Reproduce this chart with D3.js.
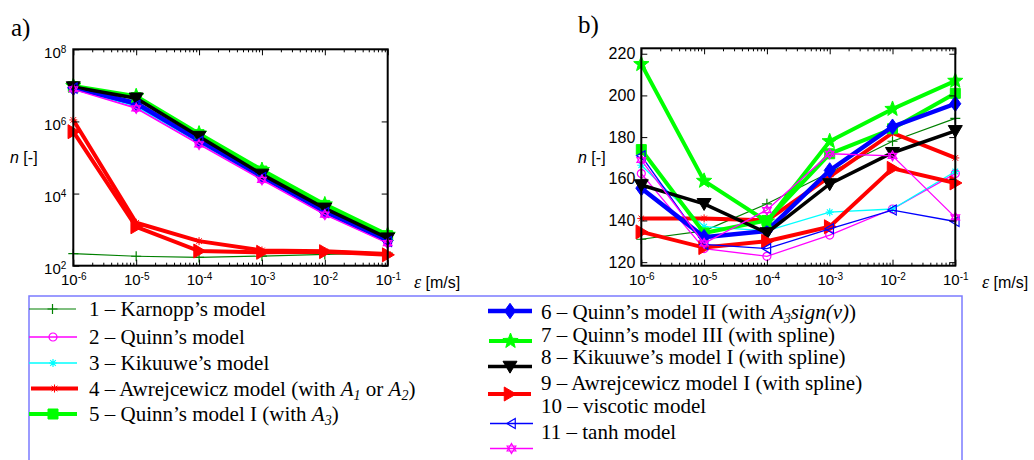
<!DOCTYPE html>
<html><head><meta charset="utf-8">
<script src="https://cdn.jsdelivr.net/npm/d3@7"></script>
<style>body{margin:0;background:#fff;overflow:hidden}</style>
</head><body>
<svg id="c" width="1034" height="460" xmlns="http://www.w3.org/2000/svg"></svg>
<script>
// ---------- data ----------
const eps = [1e-6, 1e-5, 1e-4, 1e-3, 1e-2, 1e-1];
const epsExp = ["-6", "-5", "-4", "-3", "-2", "-1"];
const leftYTicks = [1e2, 1e4, 1e6, 1e8];
const leftYExp = ["2", "4", "6", "8"];
const rightYTicks = [120, 140, 160, 180, 200, 220];

// panel a) : n [-] (log scale)
const a1  = [215, 183, 170, 185, 205, 225];
const a2  = [8.0e6, 2.4e6, 2.4e5, 2.5e4, 2.7e3, 430];
const a3  = [8.2e6, 2.6e6, 2.6e5, 2.7e4, 2.9e3, 450];
const a4  = [1.1e6, 1.55e3, 480, 265, 250, 210];
const a5  = [9.2e6, 4.6e6, 4.3e5, 4.2e4, 4.7e3, 680];
const a6  = [8.6e6, 3.2e6, 3.0e5, 3.0e4, 3.2e3, 500];
const a7  = [9.6e6, 5.0e6, 4.6e5, 4.5e4, 5.0e3, 720];
const a8  = [9.0e6, 4.4e6, 3.8e5, 3.4e4, 3.9e3, 580];
const a9  = [5.2e5, 1.2e3, 255, 235, 245, 200];
const a10 = [8.4e6, 2.8e6, 2.8e5, 2.8e4, 3.0e3, 470];
const a11 = [7.8e6, 2.3e6, 2.3e5, 2.4e4, 2.6e3, 420];

// panel b) : n [-] (linear scale)
const b1  = [131, 135, 148, 163, 178, 189];
const b2  = [162.5, 126.5, 122.8, 133, 145.5, 162.5];
const b3  = [166.5, 137, 135, 144, 145.5, 163.5];
const b4  = [141, 141, 140, 161, 182, 170];
const b5  = [174, 134, 140, 172, 184, 201];
const b6  = [155.5, 132, 135, 164, 185, 196];
const b7  = [215, 159, 139.5, 178, 193.5, 207];
const b8  = [157, 148, 134, 157.5, 172.5, 183];
const b9  = [134.5, 127, 130, 137, 165, 158];
const b10 = [171, 128.5, 126.5, 136, 145, 139.5];
const b11 = [169, 129, 145, 172, 171, 141.5];

const seriesA = [a1, a2, a3, a4, a5, a6, a7, a8, a9, a10, a11];
const seriesB = [b1, b2, b3, b4, b5, b6, b7, b8, b9, b10, b11];

// ---------- styles ----------
const colors  = ["#008000", "#ff00ff", "#00ffff", "#ff0000", "#00ff00", "#0000ff", "#00ff00", "#000000", "#ff0000", "#0000ff", "#ff00ff"];
const widths  = [1.2, 1.3, 1.3, 4, 4, 4.5, 4, 3.5, 4, 1.3, 1.3];
const markers = ["plus", "circle", "aster", "aster", "square", "diamond", "star", "triDown", "triRight", "triLeft", "hexa"];
const msize   = [5, 4, 4, 4, 5, 5.5, 8, 7, 7, 5, 5];
const mfill   = [false, false, false, true, true, true, true, true, true, false, false];

// ---------- helpers ----------
function markerPath(t, s) {
  switch (t) {
    case "plus": return `M${-s},0H${s}M0,${-s}V${s}`;
    case "circle": return `M${s},0A${s},${s} 0 1,1 ${-s},0A${s},${s} 0 1,1 ${s},0Z`;
    case "aster": { const k = s * 0.7; return `M${-s},0H${s}M0,${-s}V${s}M${-k},${-k}L${k},${k}M${-k},${k}L${k},${-k}`; }
    case "square": return `M${-s},${-s}H${s}V${s}H${-s}Z`;
    case "diamond": return `M0,${-s * 1.4}L${s},0L0,${s * 1.4}L${-s},0Z`;
    case "star": {
      let p = [];
      for (let i = 0; i < 10; i++) {
        const r = i % 2 === 0 ? s : s * 0.42;
        const a = -Math.PI / 2 + i * Math.PI / 5;
        p.push([r * Math.cos(a), r * Math.sin(a)]);
      }
      return "M" + p.map(q => q[0].toFixed(2) + "," + q[1].toFixed(2)).join("L") + "Z";
    }
    case "triDown": return `M${-s},${-s * 0.75}L${s},${-s * 0.75}L0,${s * 0.95}Z`;
    case "triRight": return `M${-s * 0.75},${-s}L${s * 0.95},0L${-s * 0.75},${s}Z`;
    case "triLeft": return `M${s * 0.75},${-s}L${-s * 0.95},0L${s * 0.75},${s}Z`;
    case "hexa": {
      const h = s, w = s * 0.87;
      return `M0,${-h}L${w},${h * 0.5}L${-w},${h * 0.5}ZM0,${h}L${w},${-h * 0.5}L${-w},${-h * 0.5}Z`;
    }
  }
}

const svg = d3.select("#c");
const SANS = "'Liberation Sans', Arial, sans-serif";
const SERIF = "'Liberation Serif', 'Times New Roman', serif";

function drawSeries(g, xs, ys, data, i) {
  const line = d3.line().x((d, j) => xs(eps[j])).y(d => ys(d));
  g.append("path").attr("d", line(data)).attr("fill", "none")
    .attr("stroke", colors[i]).attr("stroke-width", widths[i]).attr("stroke-linejoin", "miter");
  g.selectAll(null).data(data).enter().append("path")
    .attr("transform", (d, j) => `translate(${xs(eps[j])},${ys(d)})`)
    .attr("d", markerPath(markers[i], msize[i]))
    .attr("fill", mfill[i] ? colors[i] : "none")
    .attr("stroke", colors[i])
    .attr("stroke-width", mfill[i] ? 1 : 1.2);
}

function powLabel(sel, exps) {
  sel.each(function (d, i) {
    const t = d3.select(this);
    t.text(null);
    t.append("tspan").text("10");
    t.append("tspan").attr("dy", "-0.55em").attr("font-size", "10px").text(exps[i]);
  });
}

function minorTicks(g, xs, y0, y1) {
  const minors = [];
  for (let e = -6; e < -1; e++) for (let m = 2; m <= 9; m++) minors.push(m * Math.pow(10, e));
  g.append("g").call(d3.axisBottom(xs).tickValues(minors).tickSize(-3).tickFormat(""))
    .attr("transform", `translate(0,${y0})`).call(s => s.select(".domain").remove());
  g.append("g").call(d3.axisTop(xs).tickValues(minors).tickSize(-3).tickFormat(""))
    .attr("transform", `translate(0,${y1})`).call(s => s.select(".domain").remove());
}

function frame(g, x0, x1, y0, y1) {
  g.append("rect").attr("x", x0).attr("y", y1).attr("width", x1 - x0).attr("height", y0 - y1)
    .attr("fill", "none").attr("stroke", "#000").attr("stroke-width", 2);
}

// ---------- panel a ----------
{
  const L = 73.3, R = 387.7, T = 49.3, B = 265.7;
  const xs = d3.scaleLog().domain([1e-6, 1e-1]).range([L, R]);
  const ys = d3.scaleLog().domain([1e2, 1e8]).range([B, T]);
  const g = svg.append("g");

  for (let i = 0; i < seriesA.length; i++) drawSeries(g, xs, ys, seriesA[i], i);

  minorTicks(g, xs, B, T);
  const xa = g.append("g").attr("transform", `translate(0,${B})`)
    .call(d3.axisBottom(xs).tickValues(eps).tickSizeInner(-6).tickSizeOuter(0).tickPadding(9));
  const xa2 = g.append("g").attr("transform", `translate(0,${T})`)
    .call(d3.axisTop(xs).tickValues(eps).tickSizeInner(-6).tickSizeOuter(0).tickFormat(""));
  const ya = g.append("g").attr("transform", `translate(${L},0)`)
    .call(d3.axisLeft(ys).tickValues(leftYTicks).tickSizeInner(-6).tickSizeOuter(0).tickPadding(7));
  const ya2 = g.append("g").attr("transform", `translate(${R},0)`)
    .call(d3.axisRight(ys).tickValues(leftYTicks).tickSizeInner(-6).tickSizeOuter(0).tickFormat(""));
  [xa, xa2, ya, ya2].forEach(a => { a.select(".domain").remove(); a.selectAll("line").attr("stroke", "#000"); });
  xa.selectAll("text").attr("font-family", SANS).attr("font-size", "15px").attr("fill", "#000").call(powLabel, epsExp);
  ya.selectAll("text").attr("font-family", SANS).attr("font-size", "15px").attr("fill", "#000")
    .attr("dy", "0.55em").call(powLabel, leftYExp);
  frame(g, L, R, B, T);

  g.append("text").attr("x", 10).attr("y", 163).attr("font-family", SANS).attr("font-size", "16px")
    .call(t => { t.append("tspan").attr("font-style", "italic").text("n"); t.append("tspan").text(" [-]"); });
  g.append("text").attr("x", 414).attr("y", 288).attr("font-family", SANS).attr("font-size", "16px")
    .call(t => { t.append("tspan").attr("font-family", SERIF).attr("font-style", "italic").attr("font-size", "18px").text("ε"); t.append("tspan").text(" [m/s]"); });
  g.append("text").attr("x", 11).attr("y", 36).attr("font-family", SERIF).attr("font-size", "25px").text("a)");
}

// ---------- panel b ----------
{
  const L = 641.3, R = 955.3, T = 48.3, B = 265.7;
  const xs = d3.scaleLog().domain([1e-6, 1e-1]).range([L, R]);
  const ys = d3.scaleLinear().domain([118.3, 222.6]).range([B, T]);
  const g = svg.append("g");

  for (let i = 0; i < seriesB.length; i++) drawSeries(g, xs, ys, seriesB[i], i);

  minorTicks(g, xs, B, T);
  const xa = g.append("g").attr("transform", `translate(0,${B})`)
    .call(d3.axisBottom(xs).tickValues(eps).tickSizeInner(-6).tickSizeOuter(0).tickPadding(9));
  const xa2 = g.append("g").attr("transform", `translate(0,${T})`)
    .call(d3.axisTop(xs).tickValues(eps).tickSizeInner(-6).tickSizeOuter(0).tickFormat(""));
  const ya = g.append("g").attr("transform", `translate(${L},0)`)
    .call(d3.axisLeft(ys).tickValues(rightYTicks).tickSizeInner(-6).tickSizeOuter(0).tickPadding(6).tickFormat(d3.format("d")));
  const ya2 = g.append("g").attr("transform", `translate(${R},0)`)
    .call(d3.axisRight(ys).tickValues(rightYTicks).tickSizeInner(-6).tickSizeOuter(0).tickFormat(""));
  [xa, xa2, ya, ya2].forEach(a => { a.select(".domain").remove(); a.selectAll("line").attr("stroke", "#000"); });
  xa.selectAll("text").attr("font-family", SANS).attr("font-size", "15px").attr("fill", "#000").call(powLabel, epsExp);
  ya.selectAll("text").attr("font-family", SANS).attr("font-size", "16px").attr("fill", "#000");
  frame(g, L, R, B, T);

  g.append("text").attr("x", 578).attr("y", 163).attr("font-family", SANS).attr("font-size", "16px")
    .call(t => { t.append("tspan").attr("font-style", "italic").text("n"); t.append("tspan").text(" [-]"); });
  g.append("text").attr("x", 982).attr("y", 288).attr("font-family", SANS).attr("font-size", "16px")
    .call(t => { t.append("tspan").attr("font-family", SERIF).attr("font-style", "italic").attr("font-size", "18px").text("ε"); t.append("tspan").text(" [m/s]"); });
  g.append("text").attr("x", 578).attr("y", 33).attr("font-family", SERIF).attr("font-size", "25px").text("b)");
}

// ---------- legend ----------
{
  const g = svg.append("g");
  g.append("rect").attr("x", 29).attr("y", 296).attr("width", 933).attr("height", 200)
    .attr("fill", "none").attr("stroke", "#7b7bff").attr("stroke-width", 1.5);

  // label parts: [text, italic?, sub?]
  const labels = [
    [["1 – Karnopp’s model"]],
    [["2 – Quinn’s model"]],
    [["3 – Kikuuwe’s model"]],
    [["4 – Awrejcewicz model (with "], ["A", 1], ["1", 1, 1], [" or "], ["A", 1], ["2", 1, 1], [")"]],
    [["5 – Quinn’s model I (with "], ["A", 1], ["3", 1, 1], [")"]],
    [["6 – Quinn’s model II (with "], ["A", 1], ["3", 1, 1], ["sign(v)", 1], [")"]],
    [["7 – Quinn’s model III (with spline)"]],
    [["8 – Kikuuwe’s model I (with spline)"]],
    [["9 – Awrejcewicz model I (with spline)"]],
    [["10 – viscotic model"]],
    [["11 – tanh model"]]
  ];
  const markY = [309, 337, 363, 388.5, 414, 311, 341, 366.5, 394, 423.5, 448.5];
  const textY = [309, 337, 363, 388.5, 414, 311.5, 334.5, 357, 382.5, 406, 431.5];
  const lx0 = [29, 29, 29, 31, 29, 488, 489, 488, 488, 490, 490];
  const lx1 = [76, 77, 77, 78, 77, 532, 532, 532, 531, 533, 533];
  const tx = [89, 89, 89, 89, 89, 541, 541, 541, 541, 541, 541];

  labels.forEach((parts, i) => {
    g.append("line").attr("x1", lx0[i]).attr("x2", lx1[i]).attr("y1", markY[i]).attr("y2", markY[i])
      .attr("stroke", colors[i]).attr("stroke-width", widths[i]);
    const cx = (lx0[i] + lx1[i]) / 2;
    g.append("path").attr("transform", `translate(${cx},${markY[i]})`)
      .attr("d", markerPath(markers[i], msize[i]))
      .attr("fill", mfill[i] ? colors[i] : "none").attr("stroke", colors[i]).attr("stroke-width", mfill[i] ? 1 : 1.2);
    const t = g.append("text").attr("x", tx[i]).attr("y", textY[i] + 7).attr("font-family", SERIF).attr("font-size", "21px").attr("fill", "#000");
    parts.forEach(p => {
      const s = t.append("tspan").text(p[0]);
      if (p[1]) s.attr("font-style", "italic");
      if (p[2]) s.attr("font-size", "14px").attr("dy", "4");
      else if (t.node().childNodes.length > 1 && parts[parts.indexOf(p) - 1][2]) s.attr("dy", "-4");
    });
  });
}
</script>
</body></html>
